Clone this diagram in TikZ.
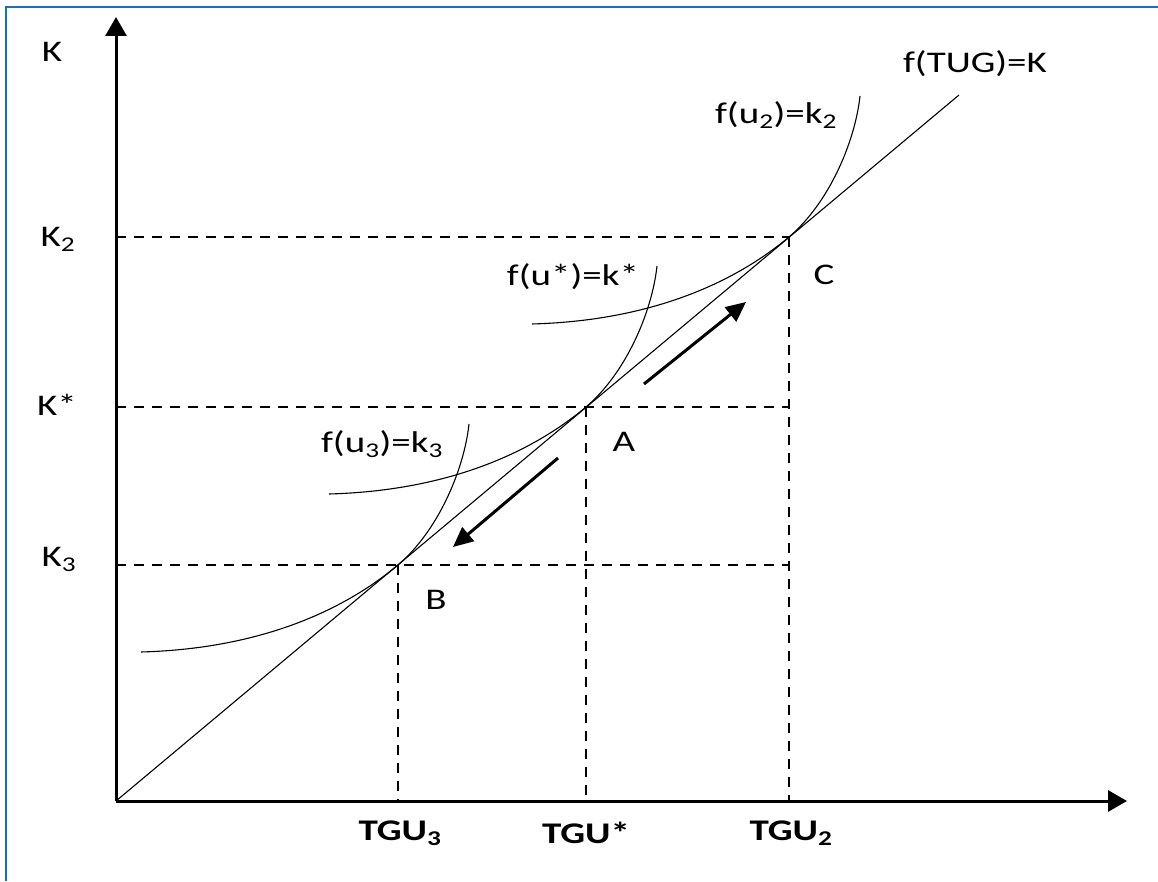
\documentclass[tikz,border=0pt]{standalone}
\usepackage{fontspec}
\setmainfont{Carlito}[FakeStretch=1.3]
\usetikzlibrary{arrows.meta}
\definecolor{frameblue}{RGB}{20,112,192}

\begin{document}
\begin{tikzpicture}[x=1pt, y=1pt,
  axis/.style={line width=3pt, -{Triangle[length=19pt,width=21pt]}},
  guide/.style={line width=1.8pt, dash pattern=on 10pt off 8pt},
  curve/.style={line width=1.1pt},
  move/.style={line width=3pt, -{Triangle[length=20pt,width=18pt]}},
  lbl/.style={font=\fontsize{30}{36}\selectfont, inner sep=0pt},
  tick/.style={font=\fontsize{30}{36}\selectfont\bfseries, inner sep=0pt}]

  \useasboundingbox (-116,-80) rectangle (1042,801);
  \draw[frameblue, line width=2.5pt] (-110,-80) -- (-110,794) -- (1042,794);

  % Define coordinates for points
  \coordinate (O) at (0,0);
  \coordinate (B) at (282,236);
  \coordinate (A) at (470,394);
  \coordinate (C) at (673,564);
  \coordinate (yTip) at (0,784);
  \coordinate (xTip) at (1011,0);
  \coordinate (lineEnd) at (843,706);
  \coordinate (upS) at (528,417);
  \coordinate (upE) at (630,499);
  \coordinate (downS) at (442,343);
  \coordinate (downE) at (337,254);

  % Axes and labels
  \draw[axis] (O) -- (yTip);
  \draw[axis] (O) -- (xTip);
  \node[lbl] (kax) at (-64,749) {K};
  \node[lbl] (kcap2) at (-58,562) {K\textsubscript{2}};
  \node[lbl] (kstar) at (-59,396) {K*};
  \node[lbl] (kcap3) at (-57,242) {K\textsubscript{3}};
  \node[tick] (tgu3) at (284,-32) {TGU\textsubscript{3}};
  \node[tick] (tgustar) at (470,-32) {TGU*};
  \node[tick] (tgu2) at (675,-32) {TGU\textsubscript{2}};

  % Dashed guides
  \draw[guide] (O|-B) -- (C|-B);
  \draw[guide] (O|-A) -- (C|-A);
  \draw[guide] (O|-C) -- (C);
  \draw[guide] (B) -- (B|-O);
  \draw[guide] (A) -- (A|-O);
  \draw[guide] (C) -- (C|-O);

  % Line and curves
  \draw[curve] (O) -- (lineEnd);
  \foreach \p in {B,A,C}
    \draw[curve, shift={(\p)}] (-257,-87) .. controls (-147,-84) and (-61,-51) .. (0,0)
      .. controls (40,34) and (66,95) .. (71,141);

  \node[lbl] (lineLbl) at (859,737) {f(TUG)=K};
  \node[lbl] (curve2) at (660,686) {f(u\textsubscript{2})=k\textsubscript{2}};
  \node[lbl] (curveStar) at (457,524) {f(u*)=k*};
  \node[lbl] (curve3) at (266,357) {f(u\textsubscript{3})=k\textsubscript{3}};
  \node[lbl] (pA) at (508,359) {A};
  \node[lbl] (pB) at (320,201) {B};
  \node[lbl] (pC) at (708,526) {C};

  % Movement arrows
  \draw[move] (upS) -- (upE);
  \draw[move] (downS) -- (downE);
\end{tikzpicture}
\end{document}
